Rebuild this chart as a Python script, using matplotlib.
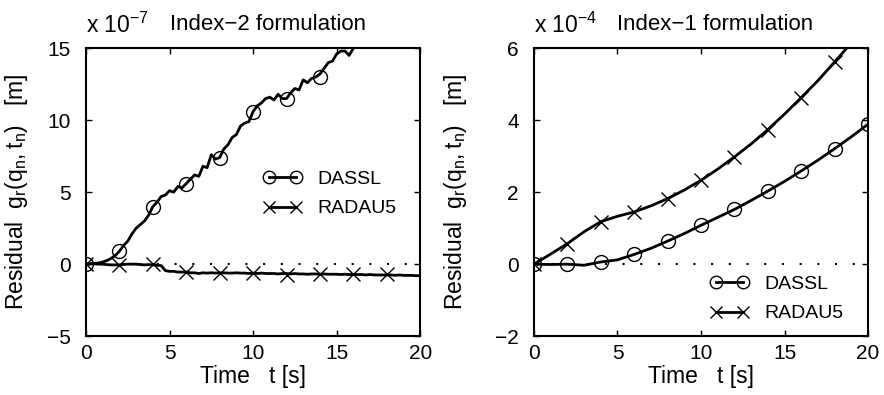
import numpy as np
import matplotlib.pyplot as plt
from matplotlib.lines import Line2D

plt.rcParams['font.family'] = ['Liberation Sans', 'DejaVu Sans']
plt.rcParams['mathtext.default'] = 'regular'

# ---------------- data ----------------
# index-2 formulation (units 1e-7 m), line sampled every 0.25 s
t2_dassl = np.arange(0, 16.51, 0.25)
g2_dassl = [0.00, 0.02, 0.05, 0.08, 0.15, 0.25, 0.40, 0.60, 0.90, 1.30, 1.60, 2.10,
            2.50, 2.75, 3.00, 3.40, 4.00, 4.30, 4.70, 4.80, 5.10, 5.00, 5.40, 5.30,
            5.60, 5.90, 6.20, 6.10, 6.80, 6.70, 7.60, 7.30, 7.40, 8.00, 8.30, 8.80,
            9.00, 9.60, 9.80, 9.90, 10.60, 11.00, 11.20, 11.50, 11.60, 11.40, 11.80, 11.50,
            11.50, 11.90, 12.20, 12.10, 12.80, 12.60, 12.90, 13.00, 13.20, 13.60, 14.00, 14.10,
            14.60, 14.80, 14.80, 14.50, 15.00, 15.50, 16.00]
t2_radau = np.arange(0, 20.01, 0.25)
g2_radau = [0.00, 0.02, 0.02, 0.00, 0.00, -0.03, -0.05, -0.05, -0.05, -0.02, 0.00, 0.00,
            0.00, -0.03, -0.05, -0.03, -0.05, -0.08, -0.10, -0.45, -0.50, -0.50, -0.55, -0.55,
            -0.55, -0.60, -0.60, -0.65, -0.60, -0.62, -0.60, -0.62, -0.60, -0.60, -0.62, -0.62,
            -0.60, -0.62, -0.62, -0.65, -0.62, -0.65, -0.62, -0.65, -0.65, -0.65, -0.68, -0.65,
            -0.65, -0.68, -0.65, -0.68, -0.68, -0.70, -0.68, -0.68, -0.70, -0.68, -0.70, -0.70,
            -0.70, -0.72, -0.70, -0.72, -0.72, -0.72, -0.72, -0.75, -0.72, -0.75, -0.75, -0.75,
            -0.75, -0.75, -0.78, -0.75, -0.78, -0.78, -0.78, -0.80, -0.80]
tm2_dassl = [0, 2, 4, 6, 8, 10, 12, 14]
gm2_dassl = [0.0, 0.9, 4.0, 5.6, 7.4, 10.6, 11.5, 13.0]
tm2_radau = [0, 2, 4, 6, 8, 10, 12, 14, 16, 18]
gm2_radau = [0.0, -0.05, 0.0, -0.55, -0.6, -0.6, -0.75, -0.65, -0.65, -0.7]

# index-1 formulation (units 1e-4 m), every 1 s
t1 = np.arange(0, 21, 1)
g1_dassl = [0.00, -0.01, 0.00, -0.03, 0.06, 0.12, 0.27, 0.44, 0.64, 0.85, 1.08,
            1.30, 1.52, 1.77, 2.03, 2.30, 2.59, 2.89, 3.21, 3.54, 3.89]
g1_radau = [0.00, 0.28, 0.57, 0.90, 1.18, 1.33, 1.45, 1.62, 1.82, 2.06, 2.33,
            2.64, 2.98, 3.34, 3.74, 4.17, 4.63, 5.10, 5.62, 6.15, 6.70]
tm1 = [0, 2, 4, 6, 8, 10, 12, 14, 16, 18, 20]

fig = plt.figure(figsize=(8.84, 3.95), dpi=100)
ax1 = fig.add_axes([0.0973, 0.149, 0.378, 0.729])
ax2 = fig.add_axes([0.604, 0.149, 0.378, 0.729])

fs_tick = 15
fs_lab = 16.5
fs_leg = 14
ms = 10

def style(ax, ylim, yticks, expo, title, ylab_x):
    ax.set_xlim(0, 20)
    ax.set_ylim(*ylim)
    ax.set_xticks([0, 5, 10, 15, 20])
    ax.set_yticks(yticks)
    ax.tick_params(direction='in', top=True, right=True, length=4, width=1,
                   labelsize=fs_tick)
    ax.tick_params(axis='x', pad=6)
    ax.tick_params(axis='y', pad=11)
    for s in ax.spines.values():
        s.set_linewidth(1.5)
    ax.axhline(0, color='black', lw=1.5, ls=(0, (1, 7.5)), zorder=1)
    ax.set_xlabel('Time   t [s]', fontsize=fs_lab, labelpad=1)
    ax.set_ylabel('Residual  $g_r(q_n,t_n)$   [m]', fontsize=fs_lab)
    ax.yaxis.set_label_coords(ylab_x, 0.5)
    ax.text(0.0, 1.035, 'x 10$^{%s}$' % expo, transform=ax.transAxes,
            fontsize=fs_lab, ha='left', va='bottom')
    ax.text(0.25, 1.045, title, transform=ax.transAxes, fontsize=16,
            ha='left', va='bottom')

# left panel
ax1.plot(t2_dassl, g2_dassl, color='black', lw=2)
ax1.plot(tm2_dassl, gm2_dassl, 'o', color='black', mfc='none', ms=ms, mew=1)
ax1.plot(t2_radau, g2_radau, color='black', lw=2)
ax1.plot(tm2_radau, gm2_radau, 'x', color='black', ms=ms, mew=1)
style(ax1, (-5, 15), [-5, 0, 5, 10, 15], '-7', 'Index\u22122 formulation', -0.168)

# right panel
ax2.plot(t1, g1_dassl, color='black', lw=2)
ax2.plot(tm1, g1_dassl[::2], 'o', color='black', mfc='none', ms=ms, mew=1)
ax2.plot(t1, g1_radau, color='black', lw=2)
ax2.plot(tm1, g1_radau[::2], 'x', color='black', ms=ms, mew=1)
style(ax2, (-2, 6), [-2, 0, 2, 4, 6], '-4', 'Index\u22121 formulation', -0.195)

h_d = Line2D([], [], color='black', lw=2, marker='o', mfc='none', ms=9, mew=1)
h_r = Line2D([], [], color='black', lw=2, marker='x', ms=9, mew=1)

leg_kw = dict(frameon=False, fontsize=fs_leg, numpoints=2, handlelength=2.0,
              handletextpad=0.8, labelspacing=0.6, borderpad=0, borderaxespad=0)
fig.legend([h_d, h_r], ['DASSL', 'RADAU5'], loc='center left',
           bbox_to_anchor=(0.2975, 0.509), **leg_kw)
fig.legend([h_d, h_r], ['DASSL', 'RADAU5'], loc='center left',
           bbox_to_anchor=(0.803, 0.243), **leg_kw)

fig.savefig('out.png', dpi=100)
